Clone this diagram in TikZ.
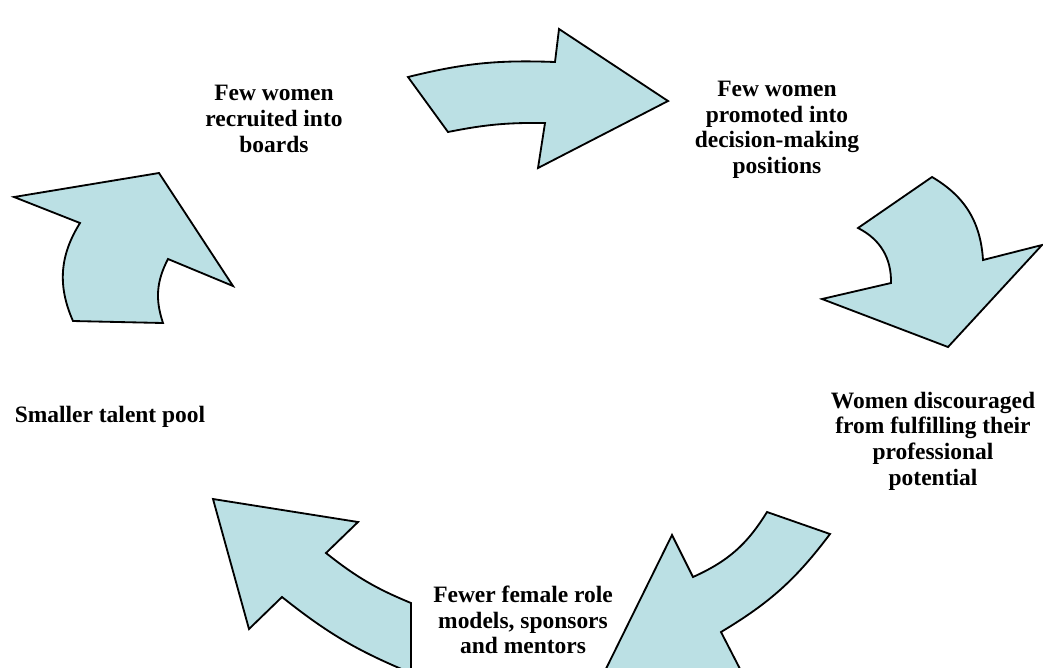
\documentclass[tikz,border=0pt]{standalone}
\usepackage{fontspec}
\setmainfont{Liberation Serif}
\definecolor{arrowblue}{RGB}{187,224,228}

\begin{document}
\begin{tikzpicture}[x=0.025cm, y=-0.025cm,
    bluearrow/.style={fill=arrowblue, draw=black, line width=1.3pt, line join=miter},
    steptext/.style={align=center, font=\bfseries\fontsize{16.7}{18.2}\selectfont, inner sep=0pt}]
    % Page frame
    \useasboundingbox (0,0) rectangle (1043,667);
    \clip (0,0) rectangle (1043,667);

    % Top arrow
    \draw[bluearrow] (408,77) to[bend left=8] (555,62) -- (559,29) -- (668,101) -- (538,168)
        -- (545,123) to[bend right=6] (448,132) -- cycle;

    % Right arrow
    \draw[bluearrow] (932,177) -- (858,228) to[bend left=32] (891,283) -- (822,299) -- (948,347)
        -- (1042,245) -- (983,260) to[bend right=28] (932,177) -- cycle;

    % Bottom right arrow
    \draw[bluearrow] (767,512) -- (830,534) to[bend left=11] (721,632) -- (757,702) -- (597,687)
        -- (672,535) -- (693,577) to[bend right=17] (767,512) -- cycle;

    % Bottom left arrow
    \draw[bluearrow] (213,499) -- (358,522) -- (326,553) to[bend right=8] (411,603) -- (411,673)
        to[bend left=8] (282,597) -- (249,629) -- cycle;

    % Left arrow
    \draw[bluearrow] (159,173) -- (233,286) -- (168,259) to[bend right=23] (163,323) -- (73,321)
        to[bend left=28] (80,223) -- (14,197) -- cycle;

    % Labels of the cycle
    \node[steptext] (boards) at (274,119) {Few women\\recruited into\\boards};
    \node[steptext] (promoted) at (777,130) {Few women\\promoted into\\decision-making\\positions};
    \node[steptext] (discouraged) at (933,441) {Women discouraged\\from fulfilling their\\professional\\potential};
    \node[steptext] (rolemodels) at (523,620) {Fewer female role\\models, sponsors\\and mentors};
    \node[steptext] (talentpool) at (110,417) {Smaller talent pool};

\end{tikzpicture}
\end{document}
